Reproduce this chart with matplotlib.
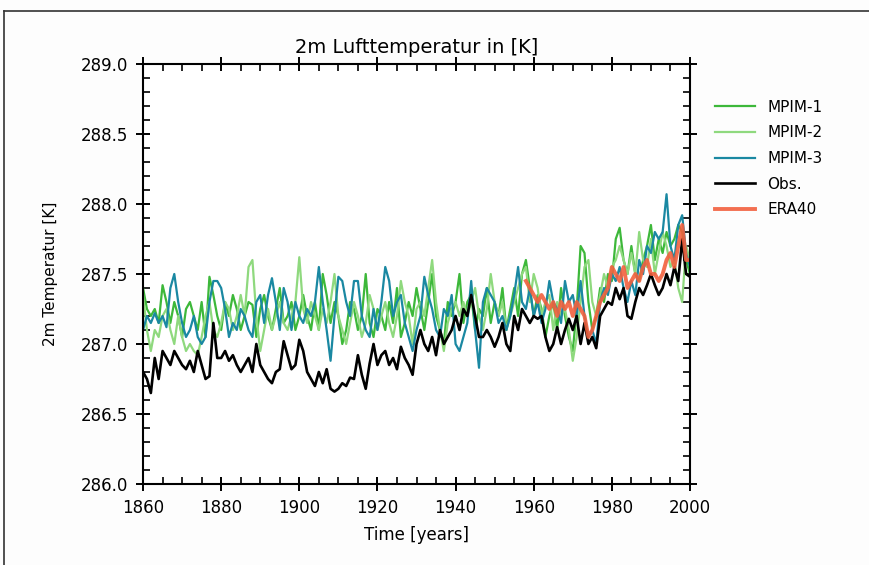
import numpy as np
import matplotlib
matplotlib.use('Agg')
import matplotlib.pyplot as plt
from matplotlib.lines import Line2D
from matplotlib.ticker import MultipleLocator

# annual mean 2m air temperature [K]
years = np.arange(1860, 2001)

obs = [286.80, 286.75, 286.65, 286.90, 286.75, 286.95, 286.90, 286.85, 286.95, 286.90,
       286.85, 286.82, 286.88, 286.80, 286.95, 286.85, 286.75, 286.77, 287.15, 286.90,
       286.90, 286.95, 286.88, 286.92, 286.85, 286.80, 286.85, 286.90, 286.80, 287.00,
       286.85, 286.80, 286.75, 286.72, 286.80, 286.82, 287.02, 286.92, 286.82, 286.85,
       287.03, 286.95, 286.80, 286.75, 286.70, 286.80, 286.72, 286.82, 286.68, 286.66,
       286.68, 286.72, 286.70, 286.76, 286.75, 286.92, 286.78, 286.68, 286.86, 287.00,
       286.85, 286.92, 286.95, 286.85, 286.90, 286.82, 286.98, 286.90, 286.85, 286.78,
       287.00, 287.10, 287.00, 286.95, 287.05, 286.92, 287.10, 287.00, 287.05, 287.10,
       287.20, 287.10, 287.25, 287.20, 287.35, 287.20, 287.05, 287.05, 287.10, 287.05,
       286.98, 287.05, 287.15, 287.00, 286.95, 287.20, 287.10, 287.25, 287.20, 287.15,
       287.20, 287.18, 287.20, 287.05, 286.95, 287.00, 287.12, 287.00, 287.10, 287.18,
       287.10, 287.20, 287.00, 287.15, 287.00, 287.05, 286.97, 287.20, 287.25, 287.30,
       287.28, 287.40, 287.32, 287.40, 287.20, 287.18, 287.30, 287.40, 287.35, 287.42,
       287.50, 287.42, 287.35, 287.40, 287.50, 287.42, 287.55, 287.45, 287.75, 287.50,
       287.48]

mpim1 = [287.40, 287.25, 287.20, 287.25, 287.15, 287.42, 287.30, 287.15, 287.30, 287.20,
         287.05, 287.25, 287.30, 287.20, 287.10, 287.30, 287.05, 287.48, 287.35, 287.20,
         287.10, 287.30, 287.20, 287.35, 287.25, 287.10, 287.20, 287.30, 287.28, 287.05,
         287.25, 287.35, 287.20, 287.10, 287.25, 287.40, 287.15, 287.20, 287.30, 287.10,
         287.20, 287.35, 287.20, 287.10, 287.30, 287.10, 287.50, 287.35, 287.15, 287.30,
         287.20, 287.00, 287.10, 287.30, 287.25, 287.10, 287.20, 287.50, 287.15, 287.05,
         287.25, 287.20, 287.10, 287.30, 287.15, 287.40, 287.05, 287.15, 287.30, 287.20,
         287.40, 287.25, 287.10, 287.30, 287.50, 287.20, 287.10, 287.00, 287.30, 287.20,
         287.30, 287.50, 287.15, 287.30, 287.35, 287.10, 287.25, 287.20, 287.40, 287.15,
         287.30, 287.20, 287.40, 287.10, 287.25, 287.40, 287.20, 287.50, 287.60, 287.40,
         287.20, 287.35, 287.25, 287.05, 287.20, 287.30, 287.10, 287.40, 287.20, 287.05,
         286.95, 287.25, 287.70, 287.65, 287.30, 287.10, 287.20, 287.40, 287.30, 287.50,
         287.45, 287.75, 287.83, 287.60, 287.50, 287.70, 287.50, 287.45, 287.60, 287.70,
         287.85, 287.60, 287.75, 287.65, 287.80, 287.70, 287.75, 287.85, 287.80, 287.60,
         287.50]

mpim2 = [287.35, 287.10, 286.95, 287.10, 287.05, 287.20, 287.25, 287.10, 287.00, 287.20,
         287.05, 286.95, 287.00, 286.95, 286.92, 287.05, 287.20, 287.30, 287.10, 287.05,
         287.15, 287.30, 287.25, 287.10, 287.20, 287.35, 287.20, 287.55, 287.60, 287.20,
         286.95, 287.10, 287.25, 287.10, 287.20, 287.30, 287.15, 287.10, 287.20, 287.30,
         287.62, 287.25, 287.15, 287.30, 287.20, 287.10, 287.25, 287.15, 287.30, 287.50,
         287.20, 287.10, 287.00, 287.15, 287.30, 287.20, 287.05, 287.15, 287.35, 287.25,
         287.10, 287.20, 287.30, 287.15, 287.05, 287.20, 287.45, 287.30, 287.20, 287.00,
         287.25, 287.30, 287.20, 287.40, 287.60, 287.30, 287.10, 286.95, 287.15, 287.25,
         287.30, 287.20, 287.30, 287.20, 287.30, 287.40, 287.20, 287.10, 287.25, 287.50,
         287.30, 287.20, 287.30, 287.10, 287.20, 287.30, 287.40, 287.50, 287.55, 287.30,
         287.50, 287.40, 287.20, 287.30, 287.35, 287.10, 287.30, 287.20, 287.25, 287.10,
         286.88, 287.05, 287.30, 287.55, 287.60, 287.30, 287.20, 287.35, 287.50, 287.40,
         287.55, 287.60, 287.70, 287.60, 287.50, 287.65, 287.50, 287.80, 287.60, 287.55,
         287.75, 287.50, 287.65, 287.80, 287.70, 287.55, 287.60, 287.40, 287.30, 287.70,
         287.60]

mpim3 = [287.10, 287.20, 287.15, 287.22, 287.15, 287.20, 287.12, 287.40, 287.50, 287.30,
         287.15, 287.05, 287.10, 287.20, 287.05, 287.00, 287.05, 287.30, 287.45, 287.45,
         287.40, 287.25, 287.05, 287.15, 287.10, 287.25, 287.20, 287.10, 287.05, 287.30,
         287.35, 287.15, 287.35, 287.47, 287.30, 287.10, 287.40, 287.30, 287.10, 287.30,
         287.20, 287.15, 287.25, 287.20, 287.30, 287.55, 287.30, 287.10, 286.88, 287.20,
         287.48, 287.45, 287.30, 287.20, 287.45, 287.45, 287.20, 287.10, 287.05, 287.25,
         287.10, 287.30, 287.55, 287.45, 287.20, 287.30, 287.35, 287.15, 287.05, 286.95,
         287.10, 287.20, 287.48, 287.35, 287.25, 287.10, 287.05, 287.25, 287.20, 287.35,
         287.00, 286.95, 287.05, 287.15, 287.45, 287.10, 286.83, 287.30, 287.40, 287.35,
         287.30, 287.15, 287.20, 287.10, 287.20, 287.35, 287.55, 287.30, 287.25, 287.40,
         287.20, 287.30, 287.15, 287.25, 287.45, 287.30, 287.25, 287.15, 287.45, 287.30,
         287.35, 287.20, 287.45, 287.20, 287.05, 287.10, 287.00, 287.30, 287.40, 287.35,
         287.50, 287.45, 287.55, 287.40, 287.30, 287.45, 287.35, 287.60, 287.50, 287.70,
         287.65, 287.80, 287.75, 287.80, 288.07, 287.70, 287.60, 287.85, 287.92, 287.65,
         287.55]

era_years = np.arange(1958, 2001)
era40 = [287.45, 287.40, 287.35, 287.30, 287.35, 287.30, 287.25, 287.30, 287.20, 287.30,
         287.25, 287.30, 287.20, 287.30, 287.25, 287.20, 287.05, 287.10, 287.20, 287.30,
         287.35, 287.40, 287.55, 287.50, 287.45, 287.55, 287.40, 287.45, 287.50, 287.45,
         287.55, 287.60, 287.50, 287.50, 287.45, 287.50, 287.60, 287.65, 287.55, 287.70,
         287.85, 287.60, 287.60]

plt.rcParams['font.family'] = ['DejaVu Sans']

fig = plt.figure(figsize=(8.69, 5.65), dpi=100)
fig.patch.set_facecolor('#fdfdfd')
ax = fig.add_axes([0.1646, 0.1434, 0.6294, 0.7433])
ax.set_facecolor('white')

ax.plot(years, mpim1, color='#3db83a', lw=1.6, label='MPIM-1')
ax.plot(years, mpim2, color='#8fd97e', lw=1.6, label='MPIM-2')
ax.plot(years, mpim3, color='#1a88a2', lw=1.6, label='MPIM-3')
ax.plot(years, obs, color='black', lw=1.9, label='Obs.')
ax.plot(era_years, era40, color='#f2603e', lw=2.8, alpha=0.9, label='ERA40')

ax.set_xlim(1860, 2000)
ax.set_ylim(286.0, 289.0)
ax.xaxis.set_major_locator(MultipleLocator(20))
ax.xaxis.set_minor_locator(MultipleLocator(5))
ax.yaxis.set_major_locator(MultipleLocator(0.5))
ax.yaxis.set_minor_locator(MultipleLocator(0.1))
ax.yaxis.set_major_formatter(matplotlib.ticker.FormatStrFormatter('%.1f'))
ax.tick_params(which='major', direction='inout', length=10, width=1.4,
               top=True, right=True, labelsize=12, pad=6)
ax.tick_params(which='minor', direction='in', length=5, width=1.2,
               top=True, right=True)
for s in ax.spines.values():
    s.set_linewidth(1.5)

ax.set_title('2m Lufttemperatur in [K]', fontsize=14, pad=8)
ax.set_xlabel('Time [years]', fontsize=12, labelpad=6)
ax.set_ylabel('2m Temperatur [K]', fontsize=11, labelpad=16)

ax.legend(loc='upper left', bbox_to_anchor=(1.035, 0.93), frameon=False,
          fontsize=11, handlelength=2.6, labelspacing=0.7, borderaxespad=0)

# thin frame around the figure as in the scanned page
fig.add_artist(Line2D([4 / 869, 4 / 869], [0, 1 - 11 / 565], color='#333333', lw=1.2))
fig.add_artist(Line2D([4 / 869, 1], [1 - 11 / 565, 1 - 11 / 565], color='#333333', lw=1.2))

fig.savefig('out.png', dpi=100, facecolor=fig.get_facecolor())
